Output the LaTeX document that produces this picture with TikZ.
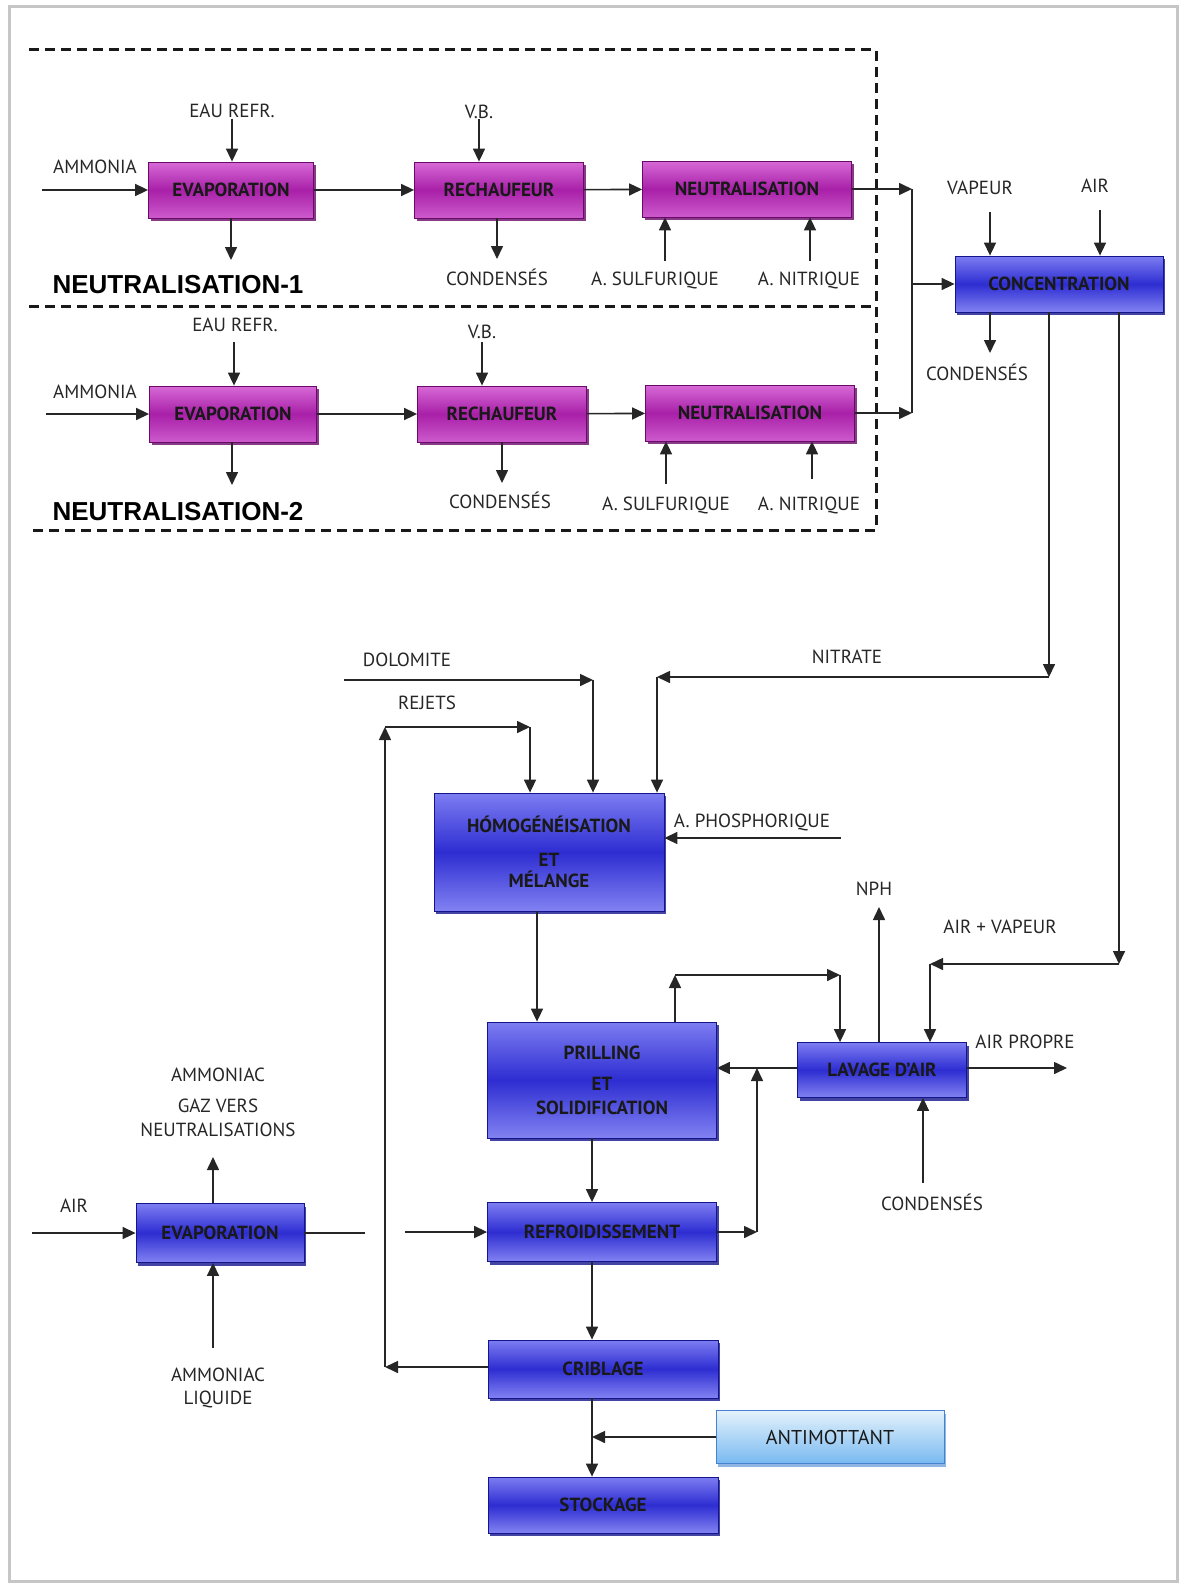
\documentclass[tikz,border=0pt]{standalone}
\usepackage{fontspec}
\setmainfont{PT Sans}
\newfontfamily\headfont{Liberation Sans}
\usetikzlibrary{arrows.meta}
\usetikzlibrary{positioning}
\usetikzlibrary{shadows}

\definecolor{purpleTop}{RGB}{215,105,215}
\definecolor{purpleMid}{RGB}{168,32,168}
\definecolor{purpleBot}{RGB}{205,90,205}
\definecolor{purpleDark}{RGB}{105,10,105}
\definecolor{blueTop}{RGB}{125,125,242}
\definecolor{blueMid}{RGB}{45,45,210}
\definecolor{blueBot}{RGB}{130,130,242}
\definecolor{blueDark}{RGB}{20,20,140}
\definecolor{antiTop}{RGB}{228,242,252}
\definecolor{antiBot}{RGB}{120,185,240}
\definecolor{antiDark}{RGB}{70,130,210}

\begin{document}
\begin{tikzpicture}[x=0.5pt,y=-0.5pt,
    every node/.style={font=\fontsize{9.5}{11}\selectfont, text=black!85},
    flow/.style={line width=0.8pt, black!85},
    arr/.style={flow, -{Triangle[length=6.5pt,width=6pt]}},
    pbox/.style={draw=purpleDark, line width=0.4pt, top color=purpleTop, bottom color=purpleBot, middle color=purpleMid,
        drop shadow={shadow xshift=1pt, shadow yshift=-1.5pt, fill=purpleDark, opacity=0.8}, minimum height=28pt, inner sep=2pt,
        font=\bfseries\fontsize{9.5}{11}\selectfont, text=black!90},
    bbox/.style={draw=blueDark, line width=0.4pt, top color=blueTop, bottom color=blueBot, middle color=blueMid,
        drop shadow={shadow xshift=1pt, shadow yshift=-1.5pt, fill=blueDark, opacity=0.8}, minimum height=28pt, inner sep=2pt, align=center,
        font=\bfseries\fontsize{9.5}{11}\selectfont, text=black!90},
    abox/.style={draw=antiDark, line width=0.4pt, top color=antiTop, bottom color=antiBot,
        drop shadow={shadow xshift=1pt, shadow yshift=-1.5pt, fill=antiDark, opacity=0.6}, minimum height=26.5pt, inner sep=2pt,
        font=\fontsize{10}{11}\selectfont, text=black!90},
    lbl/.style={inner sep=1pt, align=center},
    head/.style={font=\headfont\bfseries\fontsize{13}{15}\selectfont, text=black},
    zone/.style={line width=1.5pt, dash pattern=on 5pt off 3pt, black!90}
  ]
\useasboundingbox (0,0) rectangle (1186,1584);
\draw[gray!45, line width=1.5pt] (9,7) rectangle (1177,1581);

% zones de neutralisation
\draw[zone] (29,50) -- (876,50) -- (876,530) -- (29,530);
\draw[zone] (29,306) -- (876,306);

% ligne 1
\node[pbox, minimum width=82.5pt] (evapA) at (231,190) {EVAPORATION};
\node[pbox, minimum width=84.5pt] (rechA) at (499,190) {RECHAUFEUR};
\node[pbox, minimum width=104.5pt] (neutA) at (747,189) {NEUTRALISATION};
\node[head] (titA) at (178,285) {NEUTRALISATION-1};

\node[lbl] (ammA) at (95,167) {AMMONIA};
\node[lbl] (eauA) at (232,111) {EAU REFR.};
\node[lbl] (vbA) at (479,112) {V.B.};
\node[lbl] (condA) at (497,277) {CONDENSÉS};
\node[lbl] (sulfA) at (655,280) {A. SULFURIQUE};
\node[lbl] (nitrA) at (809,280) {A. NITRIQUE};

\coordinate (ammAin) at (42,190);
\coordinate (eauAin) at (232,119);
\coordinate (evapAout) at (231,260);
\coordinate (vbAin) at (479,119);
\coordinate (condAout) at (497,259);
\coordinate (sulfAin) at (665,261);
\coordinate (nitrAin) at (810,261);

\draw[arr] (ammAin) -- (evapA);
\draw[arr] (eauAin) -- (eauAin |- evapA.north);
\draw[arr] (evapA) -- (evapAout);
\draw[arr] (evapA) -- (rechA);
\draw[arr] (vbAin) -- (vbAin |- rechA.north);
\draw[arr] (rechA.south -| condAout) -- (condAout);
\draw[arr] (rechA) -- (neutA);
\draw[arr] (sulfAin) -- (sulfAin |- neutA.south);
\draw[arr] (nitrAin) -- (nitrAin |- neutA.south);

% ligne 2
\node[pbox, minimum width=83.5pt] (evapB) at (233,414) {EVAPORATION};
\node[pbox, minimum width=84.5pt] (rechB) at (502,414) {RECHAUFEUR};
\node[pbox, minimum width=104.5pt] (neutB) at (750,413) {NEUTRALISATION};
\node[head] (titB) at (178,512) {NEUTRALISATION-2};

\node[lbl] (ammB) at (95,392) {AMMONIA};
\node[lbl] (eauB) at (235,325) {EAU REFR.};
\node[lbl] (vbB) at (482,332) {V.B.};
\node[lbl] (condB) at (500,500) {CONDENSÉS};
\node[lbl] (sulfB) at (666,505) {A. SULFURIQUE};
\node[lbl] (nitrB) at (809,505) {A. NITRIQUE};

\coordinate (ammBin) at (46,414);
\coordinate (eauBin) at (234,342);
\coordinate (evapBout) at (232,485);
\coordinate (vbBin) at (482,342);
\coordinate (condBout) at (502,483);
\coordinate (sulfBin) at (666,484);
\coordinate (nitrBin) at (812,479);

\draw[arr] (ammBin) -- (evapB);
\draw[arr] (eauBin) -- (eauBin |- evapB.north);
\draw[arr] (evapB.south -| evapBout) -- (evapBout);
\draw[arr] (evapB) -- (rechB);
\draw[arr] (vbBin) -- (vbBin |- rechB.north);
\draw[arr] (rechB.south -| condBout) -- (condBout);
\draw[arr] (rechB) -- (neutB);
\draw[arr] (sulfBin) -- (sulfBin |- neutB.south);
\draw[arr] (nitrBin) -- (nitrBin |- neutB.south);

% concentration
\node[bbox, minimum width=104pt] (conc) at (1059,284) {CONCENTRATION};
\node[lbl] (vapC) at (980,188) {VAPEUR};
\node[lbl] (airC) at (1095,186) {AIR};
\node[lbl] (condC) at (977,372) {CONDENSÉS};
\coordinate (jA) at (912,189);
\coordinate (jB) at (912,413);
\coordinate (vapCin) at (990,212);
\coordinate (airCin) at (1100,210);
\coordinate (condCout) at (990,353);

\draw[arr] (neutA) -- (jA);
\draw[arr] (neutB) -- (jB);
\draw[flow] (jA) -- (jB);
\draw[arr] (jA |- conc) -- (conc);
\draw[arr] (vapCin) -- (vapCin |- conc.north);
\draw[arr] (airCin) -- (airCin |- conc.north);
\draw[arr] (conc.south -| condCout) -- (condCout);

% homogeneisation
\node[bbox, minimum width=115pt, minimum height=59pt] (homog) at (549,852)
    {HÓMOGÉNÉISATION\\[6pt]ET\\[-0.5pt]MÉLANGE};
\node[lbl] (nitrate) at (847,657) {NITRATE};
\node[lbl] (dolo) at (407,660) {DOLOMITE};
\node[lbl] (rejets) at (427,703) {REJETS};
\node[lbl] (phos) at (752,822) {A. PHOSPHORIQUE};

\coordinate (nitR) at (1049,677);
\coordinate (nitL) at (657,677);
\coordinate (doloL) at (344,680);
\coordinate (doloR) at (593,680);
\coordinate (rejTop) at (385,727);
\coordinate (rejR) at (530,727);
\coordinate (phosIn) at (841,838);

\draw[arr] (conc.south -| nitR) -- (nitR);
\draw[arr] (nitR) -- (nitL);
\draw[arr] (nitL) -- (nitL |- homog.north);
\draw[arr] (doloL) -- (doloR);
\draw[arr] (doloR) -- (doloR |- homog.north);
\draw[arr] (rejTop) -- (rejR);
\draw[arr] (rejR) -- (rejR |- homog.north);
\draw[arr] (phosIn) -- (phosIn -| homog.east);

% prilling et lavage
\node[bbox, minimum width=114.5pt, minimum height=58pt] (prill) at (602,1080)
    {PRILLING\\[4.5pt]ET\\[1pt]SOLIDIFICATION};
\node[bbox, minimum width=84.5pt, minimum height=27.5pt] (lavage) at (882,1070) {LAVAGE D'AIR};
\node[lbl] (nph) at (874,889) {NPH};
\node[lbl] (airvap) at (1000,927) {AIR + VAPEUR};
\node[lbl] (propre) at (1025,1042) {AIR PROPRE};
\node[lbl] (condL) at (932,1202) {CONDENSÉS};

\coordinate (avR) at (1119,964);
\coordinate (avL) at (930,964);
\coordinate (pvL) at (675,975);
\coordinate (pvR) at (840,975);
\coordinate (nphOut) at (879,907);
\coordinate (propreOut) at (1067,1068);
\coordinate (condLin) at (923,1183);
\coordinate (homogOut) at (537,900);

\draw[arr] (conc.south -| avR) -- (avR);
\draw[arr] (avR) -- (avL);
\draw[arr] (avL) -- (avL |- lavage.north);
\draw[arr] (homogOut |- homog.south) -- (homogOut |- prill.north);
\draw[arr] (prill.north -| pvL) -- (pvL);
\draw[arr] (pvL) -- (pvR);
\draw[arr] (pvR) -- (pvR |- lavage.north);
\draw[arr] (lavage.north -| nphOut) -- (nphOut);
\draw[arr] (lavage.east |- propreOut) -- (propreOut);
\draw[arr] (condLin) -- (condLin |- lavage.south);
\draw[arr] (lavage.west |- propreOut) -- (prill.east |- propreOut);

% refroidissement, criblage, stockage
\node[bbox, minimum width=114.5pt, minimum height=29.5pt] (refr) at (602,1232) {REFROIDISSEMENT};
\node[bbox, minimum width=84pt, minimum height=29.5pt] (evapC) at (220,1233) {EVAPORATION};
\node[bbox, minimum width=115pt, minimum height=29pt] (crib) at (603,1369) {CRIBLAGE};
\node[abox, minimum width=114pt] (anti) at (830,1437) {ANTIMOTTANT};
\node[bbox, minimum width=115pt, minimum height=28pt] (stock) at (603,1505) {STOCKAGE};

\node[lbl] (airE) at (74,1206) {AIR};
\node[lbl] (gazE) at (218,1102) {AMMONIAC\\[4.5pt]GAZ VERS\\[1pt]NEUTRALISATIONS};
\node[lbl] (liqE) at (218,1388) {AMMONIAC\\[0.5pt]LIQUIDE};

\coordinate (airEin) at (32,1233);
\coordinate (gazOut) at (213,1157);
\coordinate (liqIn) at (213,1348);
\coordinate (evapCend) at (365,1233);
\coordinate (refrIn) at (405,1232);
\coordinate (refrR) at (757,1232);
\coordinate (rejBot) at (385,1367);
\coordinate (antiJ) at (592,1437);

\draw[arr] (airEin) -- (evapC);
\draw[arr] (evapC.north -| gazOut) -- (gazOut);
\draw[arr] (liqIn) -- (liqIn |- evapC.south);
\draw[flow] (evapC) -- (evapCend);
\draw[arr] (refrIn) -- (refr);
\draw[arr] (prill.south -| antiJ) -- (antiJ |- refr.north);
\draw[arr] (refr) -- (refrR);
\draw[arr] (refrR) -- (refrR |- propreOut);
\draw[arr] (refr.south -| antiJ) -- (antiJ |- crib.north);
\draw[arr] (crib.west |- rejBot) -- (rejBot);
\draw[arr] (rejBot) -- (rejTop);
\draw[arr] (crib.south -| antiJ) -- (antiJ |- stock.north);
\draw[arr] (anti) -- (antiJ);
\end{tikzpicture}
\end{document}
